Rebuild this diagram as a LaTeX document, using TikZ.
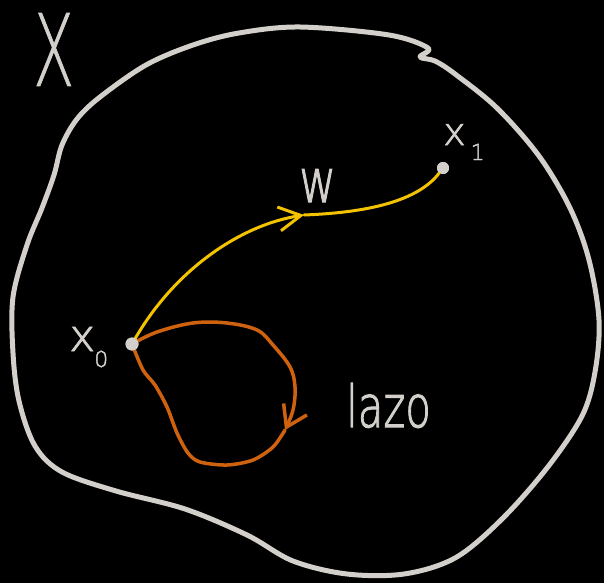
\documentclass[tikz,border=0pt]{standalone}
\usepackage{fontspec}
\setmainfont{DejaVu Sans}
\newfontfamily\hand[FakeBold=2]{DejaVu Sans ExtraLight}
\newfontfamily\handthin[FakeBold=0.8]{DejaVu Sans ExtraLight}
\usetikzlibrary{arrows.meta}
\definecolor{chalk}{HTML}{D3D0CB}
\definecolor{wyellow}{HTML}{F4C300}
\definecolor{lorange}{HTML}{CF620F}
\tikzset{
  blob/.style={draw=chalk, line width=5pt, line join=round},
  wpath/.style={draw=wyellow, line width=3pt, line cap=round},
  lpath/.style={draw=lorange, line width=3.5pt, line cap=round, line join=round},
  dot/.style={circle, fill=chalk, inner sep=0pt, minimum size=#1},
  lbl/.style={text=chalk, inner sep=0pt, font=\hand},
  wtip/.style={-{Straight Barb[length=22pt,width=24pt,line width=3pt]}},
}
\begin{document}
\begin{tikzpicture}[x=1pt,y=-1pt]
\fill[black] (0,0) rectangle (604,583);
\useasboundingbox (0,0) rectangle (604,583);
% region boundary
\draw[blob] plot[smooth cycle, tension=0.55] coordinates {
 (300,27) (389,35) (428,48) (420,57) (435,61) (455,74) (497,108) (539,156)
 (570,208) (589,260) (599,320) (595,372) (582,416) (547,468) (501,520)
 (455,558) (404,574) (347,574) (293,561) (247,535) (185,509) (116,491)
 (62,472) (35,446) (19,401) (13,353) (13,297) (27,245) (42,208) (54,175)
 (62,145) (77,119) (100,97) (146,65) (193,45) (239,33)};
% points
\node[dot=13pt] (p0) at (132,344) {};
\node[dot=12pt] (p1) at (443,168) {};
\coordinate (wm) at (304,215);
\coordinate (la) at (285,430);
% loop
\draw[lpath, -{Straight Barb[length=20pt,width=26pt,line width=3.5pt]}] plot[smooth, tension=0.6] coordinates {
 (p0.center) (157,332) (193,323) (227,323) (257,330) (273,345) (290,367) (295,387) (293,410) (la)};
\draw[lpath] plot[smooth, tension=0.5] coordinates {
 (la) (273,447) (253,460) (227,465) (200,462) (188,453) (177,433) (167,407) (155,385) (143,370) (p0.center)};
% path w
\draw[wpath, wtip] (p0) .. controls (175,270) and (240,225) .. (wm);
\draw[wpath] (wm) .. controls (355,213) and (415,205) .. (p1);
\node[dot=13pt] at (p0) {};
\node[dot=12pt] at (p1) {};
% labels
\node[lbl, font=\handthin, anchor=base west] (lX) at (33,86) {\fontsize{100}{100}\selectfont\scalebox{0.6}[1]{X}};
\node[lbl, anchor=base west] (lx0) at (69,351) {\fontsize{44}{44}\selectfont x\kern-1pt\raisebox{-16pt}{\fontsize{22}{22}\selectfont 0}};
\node[lbl, anchor=base west] (lx1) at (443,145) {\fontsize{38}{38}\selectfont x\kern5pt\raisebox{-15pt}{\fontsize{22}{22}\selectfont 1}};
\node[lbl, anchor=base west] (lw) at (299,202) {\fontsize{60}{60}\selectfont\scalebox{0.75}[1]{w}};
\node[lbl, anchor=base west] (llazo) at (346,427) {\fontsize{58}{58}\selectfont\scalebox{0.72}[1]{lazo}};
\end{tikzpicture}
\end{document}
